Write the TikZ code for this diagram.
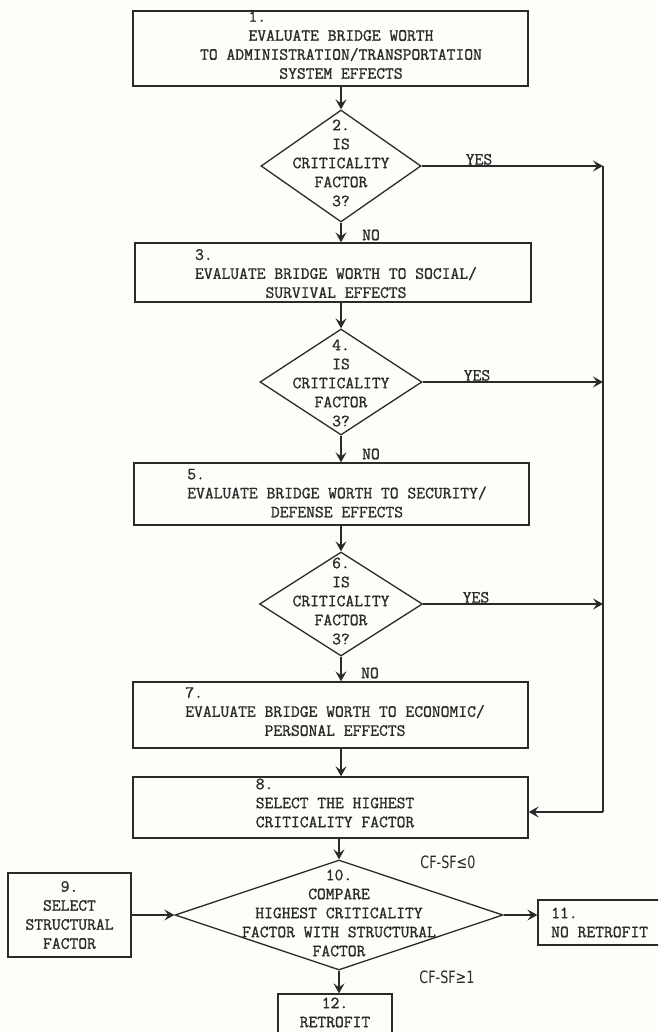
\documentclass[tikz,border=0pt]{standalone}
\usepackage{fontspec}
\newfontfamily\tw[FakeBold=1.2]{Latin Modern Mono}
\newfontfamily\cff[FakeStretch=0.75]{DejaVu Sans}
\usetikzlibrary{shapes.geometric,arrows.meta}
\definecolor{ink}{RGB}{42,42,42}
\definecolor{paper}{RGB}{253,253,249}
\newcommand{\numat}[2]{\rlap{#1}\phantom{#2}}
\begin{document}
\begin{tikzpicture}[x=1pt,y=-1pt,
  box/.style={draw=ink, line width=1.3pt, rectangle, inner sep=0pt},
  dia/.style={draw=ink, line width=1.3pt, diamond, inner sep=0pt},
  txt/.style={text=ink, font=\tw\fontsize{17.1}{19}\selectfont, align=center, inner sep=0pt},
  lab/.style={text=ink, font=\tw\fontsize{17.1}{19}\selectfont, inner sep=1pt},
  cf/.style={text=ink, font=\cff\fontsize{17}{19}\selectfont, inner sep=0pt},
  line/.style={draw=ink, line width=1.3pt},
  arr/.style={draw=ink, line width=1.3pt, -{Stealth[length=10pt,width=11pt,inset=4pt]}}]
\useasboundingbox (0,0) rectangle (658,1032);
\fill[paper] (0,0) rectangle (658,1032);
\clip (0,0) rectangle (658,1032);

% boxes
\node[box, minimum width=395pt, minimum height=75pt] (b1) at (330.5,48.5) {};
\node[txt] (t1) at (341,45) {\numat{1.}{EVALUATE BRIDGE WORTH}\\EVALUATE BRIDGE WORTH\\TO ADMINISTRATION/TRANSPORTATION\\SYSTEM EFFECTS};

\node[dia, minimum width=160pt, minimum height=112pt] (d2) at (341,166) {};
\node[txt] (t2) at (341,163) {2.\\IS\\CRITICALITY\\FACTOR\\3?};

\node[box, minimum width=396pt, minimum height=59pt] (b3) at (333,272.5) {};
\node[txt] (t3) at (336,273) {\numat{3.}{EVALUATE BRIDGE WORTH TO SOCIAL/}\\EVALUATE BRIDGE WORTH TO SOCIAL/\\SURVIVAL EFFECTS};

\node[dia, minimum width=162pt, minimum height=106pt] (d4) at (341,382) {};
\node[txt] (t4) at (341,383) {4.\\IS\\CRITICALITY\\FACTOR\\3?};

\node[box, minimum width=395pt, minimum height=62pt] (b5) at (331.5,494) {};
\node[txt] (t5) at (337,492.5) {\numat{5.}{EVALUATE BRIDGE WORTH TO SECURITY/}\\EVALUATE BRIDGE WORTH TO SECURITY/\\DEFENSE EFFECTS};

\node[dia, minimum width=163pt, minimum height=104pt] (d6) at (341,604) {};
\node[txt] (t6) at (341,601) {6.\\IS\\CRITICALITY\\FACTOR\\3?};

\node[box, minimum width=395pt, minimum height=66pt] (b7) at (330.5,715) {};
\node[txt] (t7) at (335,711) {\numat{7.}{EVALUATE BRIDGE WORTH TO ECONOMIC/}\\EVALUATE BRIDGE WORTH TO ECONOMIC/\\PERSONAL EFFECTS};

\node[box, minimum width=395pt, minimum height=61pt] (b8) at (330.5,807.5) {};
\node[txt] (t8) at (335,803) {\numat{8.}{SELECT THE HIGHEST}\\SELECT THE HIGHEST\\CRITICALITY FACTOR};

\node[dia, minimum width=328pt, minimum height=110pt] (d10) at (339,915) {};
\node[txt] (t10) at (339,913) {10.\\COMPARE\\HIGHEST CRITICALITY\\FACTOR WITH STRUCTURAL\\FACTOR};

\node[box, txt, minimum width=123pt, minimum height=84pt] (b9) at (69.5,915) {9.\\SELECT\\STRUCTURAL\\FACTOR};

\node[box, minimum width=127pt, minimum height=45pt] (b11) at (601.5,922.5) {};
\node[txt, align=left, anchor=west] (t11) at (551,922.5) {11.\\NO RETROFIT};

\node[box, minimum width=114pt, minimum height=51pt] (b12) at (335,1019.5) {};
\node[txt] (t12) at (335,1012.5) {12.\\RETROFIT};

% main flow
\draw[arr] (b1.south -| d2.north) -- (d2.north);
\draw[arr] (d2.south) -- (d2.south |- b3.north);
\draw[arr] (b3.south -| d4.north) -- (d4.north);
\draw[arr] (d4.south) -- (d4.south |- b5.north);
\draw[arr] (b5.south -| d6.north) -- (d6.north);
\draw[arr] (d6.south) -- (d6.south |- b7.north);
\draw[arr] (b7.south -| d2.north) -- (b8.north -| d2.north);
\draw[arr] (b8.south -| d10.north) -- (d10.north);
\draw[arr] (d10.south) -- (d10.south |- b12.north);
\draw[arr] (b9.east) -- (d10.west);
\draw[arr] (d10.east) -- (d10.east -| b11.west);

% YES branch
\coordinate (c8) at (603,812);
\draw[arr] (d2.east) -- (d2.east -| c8);
\draw[arr] (d4.east) -- (d4.east -| c8);
\draw[arr] (d6.east) -- (d6.east -| c8);
\draw[line] (d2.east -| c8) -- (c8);
\draw[arr] (c8) -- (c8 -| b8.east);

\node[lab, anchor=south] (y2) at (479,166) {YES};
\node[lab, anchor=south] (y4) at (477,382) {YES};
\node[lab, anchor=south] (y6) at (476,604) {YES};

\node[lab, anchor=west] (n2) at (361,235) {NO};
\node[lab, anchor=west] (n4) at (361,454) {NO};
\node[lab, anchor=west] (n6) at (360,673) {NO};

\node[cf] (cf1) at (448,862) {CF-SF≤0};
\node[cf] (cf2) at (447,977) {CF-SF≥1};
\end{tikzpicture}
\end{document}
